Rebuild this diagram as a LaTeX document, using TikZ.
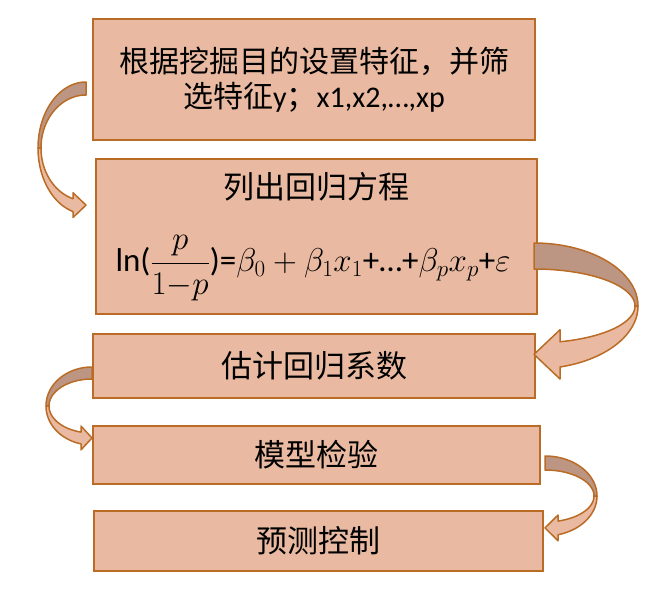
\RequirePackage{fix-cm}
\documentclass[tikz,border=0pt]{standalone}
\usepackage{fontspec}
\setmainfont{Carlito}
\newfontfamily\cjk{Noto Sans CJK SC}
\definecolor{boxfill}{RGB}{233,186,161}
\definecolor{boxline}{RGB}{186,108,38}
\definecolor{arrowdark}{RGB}{188,150,130}
\tikzset{
  box/.style={draw=boxline, fill=boxfill, line width=2pt, rectangle, inner sep=0pt, align=center},
  curvline/.style={draw=boxline, line width=1.5pt, line join=round},
  cn/.style={font=\cjk\fontsize{31}{36}\selectfont}
}
% #1 side (+1 right, -1 left), #2 cx, #3 cy, #4 rx outer, #5 ry outer,
% #6 rx inner, #7 ry inner, #8 head base offset, #9 head extra
\newcommand{\CurvArrow}[9]{%
  \pgfmathsetmacro\caO{acos((#8)/(#4))}%
  \pgfmathsetmacro\caI{acos((#8)/(#6))}%
  \pgfmathsetmacro\caYo{#3+(#5)*sin(\caO)}%
  \pgfmathsetmacro\caYi{#3+(#7)*sin(\caI)}%
  \pgfmathsetmacro\caBx{#2+(#1)*(#8)}%
  \pgfmathsetmacro\caTy{(\caYo+\caYi)/2}%
  \filldraw[fill=arrowdark, curvline]
    plot[domain=-90:0,samples=40] ({#2+(#1)*(#4)*cos(\x)},{#3+(#5)*sin(\x)})
    -- plot[domain=0:-90,samples=40] ({#2+(#1)*(#6)*cos(\x)},{#3+(#7)*sin(\x)})
    -- cycle;
  \filldraw[fill=boxfill, curvline]
    plot[domain=0:\caO,samples=40] ({#2+(#1)*(#4)*cos(\x)},{#3+(#5)*sin(\x)})
    -- ({\caBx},{\caYo+#9}) -- ({#2},{\caTy}) -- ({\caBx},{\caYi-#9})
    -- plot[domain=\caI:0,samples=40] ({#2+(#1)*(#6)*cos(\x)},{#3+(#7)*sin(\x)})
    -- cycle;
}
\begin{document}
\begin{tikzpicture}[x=1pt,y=-1pt]
\useasboundingbox (0,0) rectangle (664,597);
\node[box, minimum width=442pt, minimum height=121pt,
      font=\fontsize{30}{35}\selectfont] (b1) at (314,79.5)
  {{\cjk 根据挖掘目的设置特征，并筛}\\{\cjk 选特征}y{\cjk ；}x1,x2,…,xp};
\node[box, minimum width=441pt, minimum height=155pt] (b2) at (316.5,236.5) {};
\node[cn] (t2) at (316,187) {列出回归方程};
\node[font=\fontsize{33}{38}\selectfont] (eq) at (313,268)
  {ln($\displaystyle\frac{p}{1{-}p}$)=$\beta_0+\beta_1x_1$+…+$\beta_p x_p$+$\varepsilon$};
\node[box, cn, minimum width=442pt, minimum height=64pt] (b3) at (314,366) {估计回归系数};
\node[box, cn, minimum width=447pt, minimum height=58pt] (b4) at (316.5,455) {模型检验};
\node[box, cn, minimum width=449pt, minimum height=60pt] (b5) at (318.5,541) {预测控制};
\CurvArrow{-1}{86}{148}{48}{66}{45}{53}{13}{6}
\CurvArrow{1}{534}{306}{104}{63}{101}{37}{26}{12}
\CurvArrow{-1}{92}{406}{46}{39}{43}{27}{11}{6}
\CurvArrow{1}{545}{496}{52}{40}{49}{26}{13}{6}
\end{tikzpicture}
\end{document}
